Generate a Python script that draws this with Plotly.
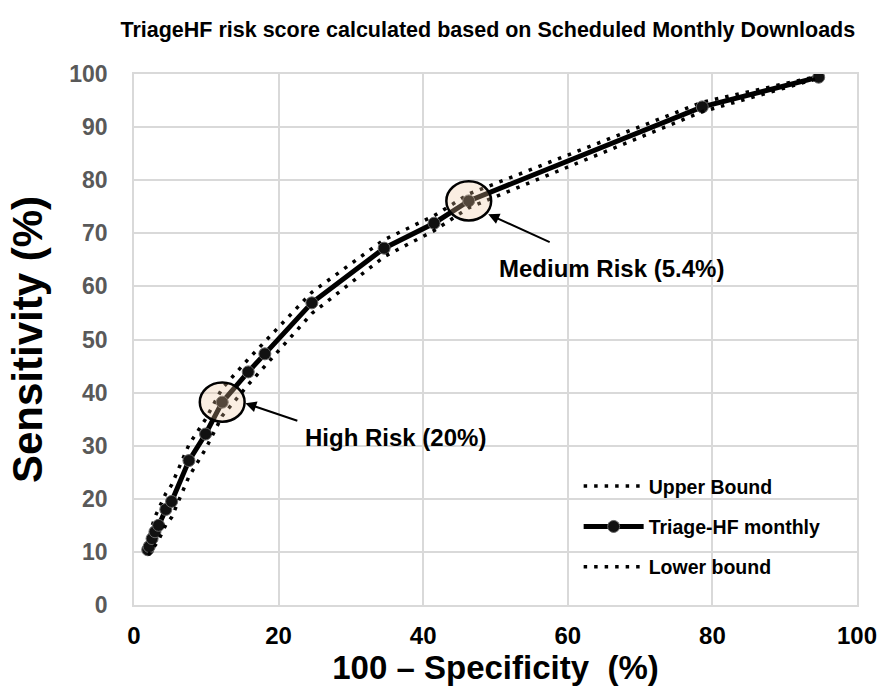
import plotly.graph_objects as go

# Main ROC curve (Triage-HF monthly)
fpr = [1.9, 2.1, 2.5, 2.9, 3.4, 4.4, 5.2, 7.6, 9.9, 12.2, 15.8, 18.1, 24.6, 34.6, 41.5, 46.3, 78.6, 94.7]
sens = [10.4, 11.0, 12.5, 13.8, 15.0, 18.0, 19.5, 27.2, 32.2, 38.2, 43.9, 47.3, 56.9, 67.2, 71.9, 76.1, 93.8, 99.4]
# Confidence bounds (read as sensitivity per point)
upper = [11.2, 12.6, 14.8, 16.6, 18.0, 21.0, 22.6, 30.2, 35.0, 40.8, 46.3, 49.6, 58.9, 68.8, 73.3, 77.4, 94.7, 99.6]
lower = [9.6, 9.6, 10.4, 11.2, 12.2, 15.1, 16.5, 24.2, 29.4, 35.6, 41.5, 45.0, 54.9, 65.6, 70.5, 74.8, 92.9, 99.2]

ticks = [0, 20, 40, 60, 80, 100]
yticks = [0, 10, 20, 30, 40, 50, 60, 70, 80, 90, 100]

FONT = "Liberation Sans, Arial, Helvetica, sans-serif"
dot = "3.5px,7px"

fig = go.Figure()
fig.add_trace(go.Scatter(x=fpr, y=upper, mode="lines", name="Upper Bound",
                         line=dict(color="black", width=3.5, dash=dot), legendgroup="a"))
fig.add_trace(go.Scatter(x=fpr, y=sens, mode="lines+markers", name="Triage-HF monthly",
                         line=dict(color="black", width=5),
                         marker=dict(symbol="circle", size=12, color="#111111",
                                     line=dict(color="#666666", width=1)), legendgroup="b"))
fig.add_trace(go.Scatter(x=fpr, y=lower, mode="lines", name="Lower bound",
                         line=dict(color="black", width=3.5, dash=dot), legendgroup="c"))

ell_fill = "rgba(240,200,160,0.30)"
hr_i = 9
mr_i = 15
for i in (hr_i, mr_i):
    cx, cy = fpr[i], sens[i]
    fig.add_shape(type="circle", xref="x", yref="y",
                  x0=cx - 3.1, x1=cx + 3.1, y0=cy - 3.7, y1=cy + 3.7,
                  fillcolor=ell_fill, line=dict(color="black", width=2.5), layer="above")

# arrows
fig.add_annotation(x=15.4, y=38.0, ax=22.8, ay=34.6, xref="x", yref="y", axref="x", ayref="y",
                   text="", showarrow=True, arrowhead=2, arrowsize=1.1, arrowwidth=2, arrowcolor="black")
fig.add_annotation(x=49.0, y=73.6, ax=57.7, ay=68.2, xref="x", yref="y", axref="x", ayref="y",
                   text="", showarrow=True, arrowhead=2, arrowsize=1.1, arrowwidth=2, arrowcolor="black")
fig.add_annotation(x=36.2, y=31.6, xref="x", yref="y", text="<b>High Risk (20%)</b>", showarrow=False,
                   font=dict(size=24, color="black", family=FONT))
fig.add_annotation(x=66.0, y=63.4, xref="x", yref="y", text="<b>Medium Risk (5.4%)</b>", showarrow=False,
                   font=dict(size=24, color="black", family=FONT))

fig.update_layout(
    width=879, height=692,
    margin=dict(l=134, r=22, t=74, b=87, autoexpand=False),
    paper_bgcolor="white", plot_bgcolor="white",
    font=dict(family=FONT, color="black"),
    title=dict(text="<b>TriageHF risk score calculated based on Scheduled Monthly Downloads</b>",
               x=0.555, xanchor="center", y=0.957, yanchor="middle",
               font=dict(size=21.5, color="black", family=FONT)),
    showlegend=True,
    legend=dict(x=0.615, y=0.26, xanchor="left", yanchor="top", bgcolor="rgba(0,0,0,0)",
                font=dict(size=19.5, color="black", family=FONT, weight="bold"), tracegroupgap=12,
                itemwidth=60),
)
fig.update_xaxes(range=[0, 100], tickvals=ticks, ticktext=[f"<b>{t}</b>" for t in ticks],
                 tickfont=dict(size=24, color="black", family=FONT),
                 showgrid=True, gridcolor="#d9d9d9", gridwidth=1.5,
                 showline=True, linecolor="#d9d9d9", linewidth=1.5, mirror=True,
                 zeroline=False, ticks="", ticklabelstandoff=8, automargin=False,
                 title=dict(text="<b>100 – Specificity\u00a0 (%)</b>",
                            font=dict(size=33, color="black", family=FONT), standoff=6))
fig.update_yaxes(range=[0, 100], tickvals=yticks, ticktext=[f"<b>{t}</b>" for t in yticks],
                 tickfont=dict(size=23, color="#595959", family=FONT),
                 showgrid=True, gridcolor="#d9d9d9", gridwidth=1.5,
                 showline=True, linecolor="#d9d9d9", linewidth=1.5, mirror=True,
                 zeroline=False, ticks="", ticklabelstandoff=20, automargin=False,
                 title=dict(text="<b>Sensitivity (%)</b>",
                            font=dict(size=42, color="black", family=FONT), standoff=14))

fig.write_html("out.html")
